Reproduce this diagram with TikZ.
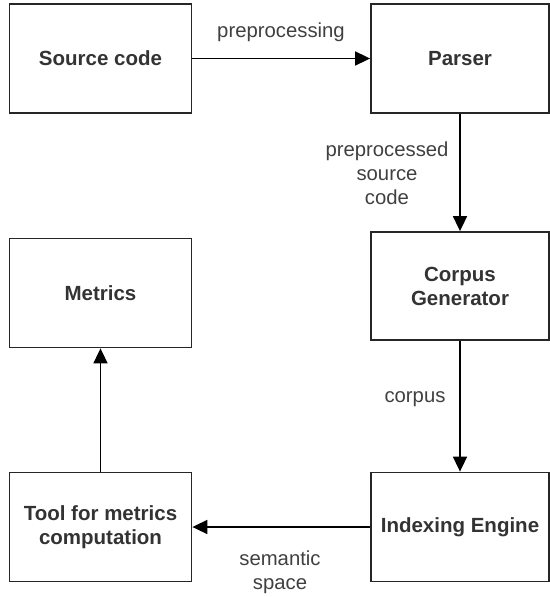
\documentclass[tikz,border=0pt]{standalone}
\usepackage{fontspec}
\setmainfont{Liberation Sans}
\usetikzlibrary{arrows.meta}
\begin{document}
\begin{tikzpicture}[x=1pt,y=-1pt,
  box/.style={draw=black!85,line width=1.8pt,minimum width=182pt,minimum height=109pt,inner sep=0pt,align=center,font=\fontsize{20.5}{24}\selectfont\bfseries,text=black!80},
  lbl/.style={font=\fontsize{20.3}{24}\selectfont,text=black!75,align=center,inner sep=0pt},
  conn/.style={line width=1.7pt,draw=black,-{Triangle[length=15pt,width=14pt]}}]
\path[use as bounding box] (0,0) rectangle (549,597);
\node[box] (src) at (100.5,58.5) {Source code};
\node[box,minimum width=178pt] (parser) at (460,58.5) {Parser};
\node[box,minimum width=178pt,minimum height=108pt] (corpus) at (460,286) {Corpus\\Generator};
\node[box] (metrics) at (100.5,293) {Metrics};
\node[box] (tool) at (100.5,527) {Tool for metrics\\computation};
\node[box,minimum width=178pt] (index) at (460,527) {Indexing Engine};
\draw[conn] (src) -- (parser);
\draw[conn] (parser) -- (corpus);
\draw[conn] (corpus) -- (index);
\draw[conn] (index) -- (tool);
\draw[conn] (tool) -- (metrics);
\node[lbl] (l1) at (281,32) {preprocessing};
\node[lbl] (l2) at (387,173) {preprocessed\\source\\code};
\node[lbl] (l3) at (415,399) {corpus};
\node[lbl] (l4) at (280,572) {semantic\\space};
\end{tikzpicture}
\end{document}
